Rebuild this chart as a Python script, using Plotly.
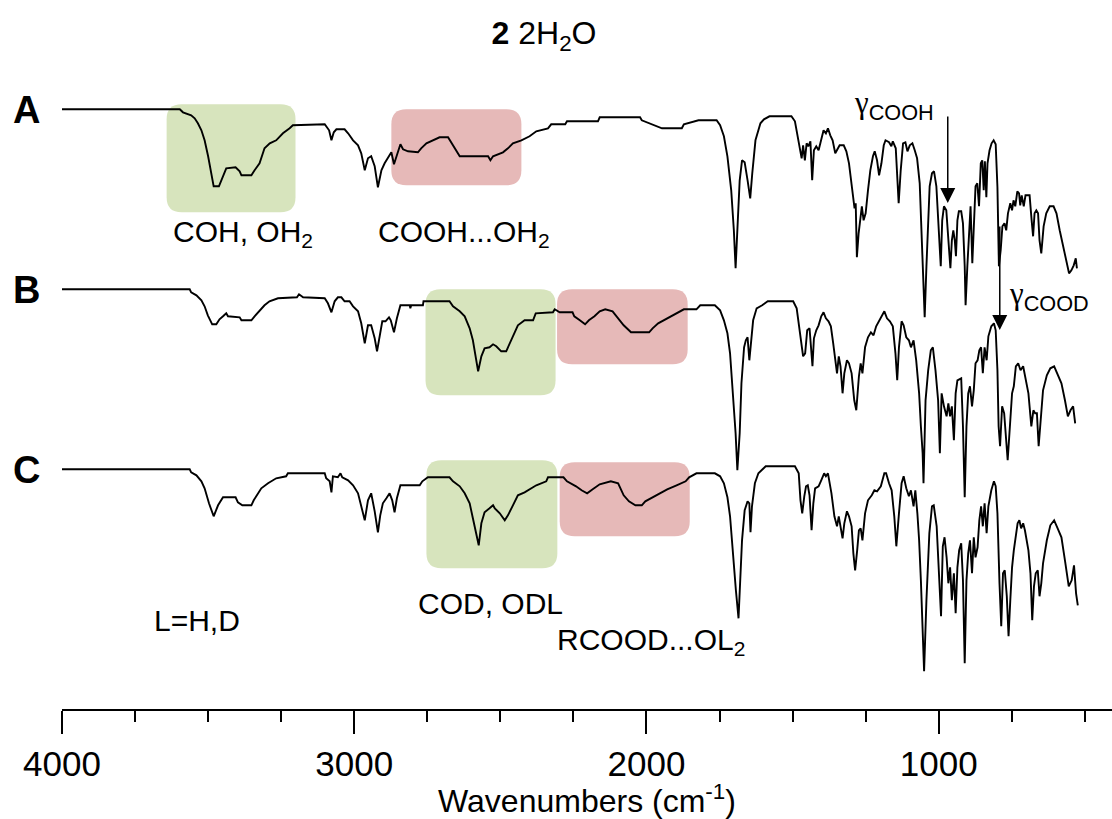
import plotly.graph_objects as go

# ---------------- data (wavenumber, relative transmittance, a.u.) ----------------
A_wn = [4000, 3597, 3586, 3558, 3546, 3535, 3523, 3512, 3500, 3489, 3481, 3463, 3449, 3438, 3406, 3392, 3386, 3352, 3341, 3324, 3307, 3289, 3267, 3244, 3221, 3210, 3101, 3086, 3078, 3070, 3061, 3033, 3021, 3004, 2987, 2976, 2964, 2953, 2942, 2930, 2919, 2907, 2896, 2885, 2873, 2864, 2854, 2842, 2833, 2816, 2782, 2771, 2753, 2731, 2708, 2679, 2662, 2639, 2542, 2534, 2525, 2491, 2474, 2457, 2428, 2400, 2377, 2337, 2326, 2297,
        2278, 2272, 2166, 2160, 2022, 2016, 1991, 1947, 1879, 1872, 1822, 1760, 1748, 1735, 1723, 1710, 1701, 1695, 1689, 1681, 1673, 1664, 1654, 1645, 1638, 1627, 1610, 1598, 1579, 1504, 1492, 1486, 1477, 1469, 1464, 1458, 1452, 1446, 1439, 1433, 1427, 1419, 1411, 1402, 1394, 1386, 1379, 1371, 1363, 1354,
        1339, 1325, 1316, 1307, 1299, 1293, 1288, 1284, 1280, 1274, 1268, 1263, 1257, 1250, 1242, 1234, 1225, 1219, 1211, 1204, 1196, 1188, 1182, 1170, 1162, 1157, 1147, 1143, 1137, 1130, 1122, 1114, 1107, 1099, 1090, 1082, 1074, 1065, 1060, 1054, 1048, 1042, 1037, 1031, 1023, 1016, 1008, 1000, 993, 988, 982, 974, 967, 960, 955, 950, 945, 941, 936, 931, 923, 917, 911, 908, 902, 896, 891, 885, 879, 874, 868, 862, 856, 851, 846, 842, 837, 833, 826, 819, 812, 805, 799, 794, 788, 782, 775, 769, 763, 755, 749, 744, 738, 731, 725, 721, 716, 709, 703, 689, 682, 677, 672, 666, 660, 655, 649, 641, 632, 620, 607, 597, 586, 575, 563, 554, 546, 538, 531, 527]
A_t = [0, 0, -3, -6, -9, -14, -21, -31, -47, -67, -77, -77, -66, -59, -58, -62, -66, -66, -61, -54, -39, -34, -31, -24, -19, -16, -15, -21, -31, -23, -20, -20, -24, -31, -36, -44, -61, -49, -47, -57, -78, -61, -54, -48, -43, -55, -45, -35, -40, -42, -43, -39, -34, -31, -28, -28, -36, -47, -47, -51, -47, -43, -39, -34, -31, -27, -22, -19, -15, -15,
       -15, -12, -12, -8, -8, -11, -14, -19, -19, -15, -11, -11, -16, -27, -47, -81, -121, -159, -121, -71, -51, -53, -71, -89, -64, -31, -14, -10, -7, -7, -12, -21, -37, -49, -36, -51, -34, -37, -32, -71, -41, -37, -41, -29, -21, -24, -19, -26, -31, -44,
       -36, -36, -42, -54, -71, -89, -99, -94, -148, -124, -111, -97, -111, -104, -81, -61, -47, -42, -51, -66, -54, -36, -31, -33, -37, -32, -39, -58, -94, -61, -34, -33, -42, -36, -34, -41, -49, -74, -111, -154, -208, -157, -111, -77, -64, -62, -77, -117, -157, -111, -97, -101, -131, -159, -131, -121, -131, -147, -111, -102, -102, -114, -157, -196, -157, -121, -97, -154, -104, -77, -74, -97, -54, -51, -81, -52, -88, -54, -41, -34, -31, -35, -78, -157, -141, -117, -114, -121, -104, -94, -101, -91, -97, -82, -84, -96, -86, -97, -86, -86, -111, -127, -104, -101, -104, -131, -144, -117, -104, -97, -97, -104, -121, -137, -151, -164, -161, -156, -149, -159]

B_wn = [4000, 3563, 3558, 3540, 3523, 3512, 3501, 3486, 3472, 3461, 3449, 3438, 3432, 3392, 3386, 3352, 3341, 3324, 3307, 3290, 3261, 3196, 3189, 3175, 3101, 3090, 3078, 3067, 3056, 3044, 3033, 3016, 3004, 2987, 2976, 2964, 2953, 2942, 2930, 2922, 2913, 2904, 2893, 2881, 2875, 2864, 2854, 2842, 2810, 2808, 2805, 2765, 2763, 2674, 2662, 2639, 2622, 2605, 2594, 2585, 2576, 2565, 2554, 2537, 2525, 2514, 2497, 2480, 2468, 2451, 2440, 2417, 2388, 2379, 2320, 2314, 2297,
        2253, 2247, 2228, 2210, 2197, 2178, 2160, 2141, 2116, 2097, 2078, 2060, 2053, 1991, 1979, 1960, 1935, 1910, 1885, 1872, 1829, 1816, 1766, 1748, 1735, 1723, 1714, 1704, 1695, 1689, 1681, 1675, 1666, 1660, 1654, 1648, 1642, 1635, 1623, 1604, 1585, 1498, 1486, 1477, 1469, 1464, 1457, 1450, 1442, 1435, 1432, 1427, 1419, 1411, 1402, 1394, 1386, 1377, 1369, 1361, 1354, 1348, 1342, 1336, 1329, 1323, 1314, 1307, 1298, 1289, 1282, 1273, 1267, 1261, 1252, 1242, 1232, 1223, 1214, 1205, 1192, 1186, 1177, 1167, 1157, 1148, 1142, 1136, 1127, 1120, 1111, 1102, 1095, 1086, 1077, 1067, 1061, 1055, 1052, 1045, 1036, 1027, 1020, 1011, 1002, 996, 990, 982, 973, 967, 961, 955, 948, 942, 936, 923, 917, 911, 905, 899, 893, 886, 880, 874, 867, 861, 855, 849, 843, 836, 830, 820, 811, 805, 799, 795, 790, 783, 776, 770, 764, 755, 749, 743, 736, 728, 720, 711, 705, 693, 683, 676, 670, 664, 658, 649, 643, 630, 618, 605, 593, 580, 568, 558, 549, 540, 533]
B_t = [0, 0, -3, -6, -11, -17, -26, -35, -35, -30, -27, -24, -27, -28, -31, -31, -27, -21, -16, -12, -9, -8, -5, -8, -9, -14, -23, -12, -8, -8, -12, -12, -17, -22, -34, -54, -36, -36, -49, -62, -46, -32, -32, -28, -31, -43, -29, -16, -16, -19, -16, -16, -12, -12, -17, -22, -27, -39, -51, -67, -82, -67, -59, -58, -55, -57, -62, -62, -54, -43, -36, -31, -31, -24, -23, -20, -23,
       -23, -27, -31, -35, -31, -27, -22, -20, -22, -29, -36, -41, -43, -43, -39, -34, -30, -26, -22, -20, -20, -16, -16, -21, -31, -44, -64, -104, -144, -181, -144, -94, -58, -51, -48, -71, -54, -31, -19, -16, -12, -12, -19, -37, -54, -67, -64, -41, -39, -61, -77, -49, -41, -36, -27, -23, -29, -32, -37, -54, -74, -84, -67, -77, -104, -84, -71, -74, -84, -111, -121, -87, -74, -84, -58, -48, -43, -46, -37, -32, -26, -22, -29, -32, -37, -64, -91, -58, -32, -36, -48, -51, -58, -51, -71, -104, -137, -164, -194, -111, -81, -61, -58, -81, -111, -164, -104, -117, -127, -114, -127, -117, -151, -104, -91, -89, -137, -208, -137, -104, -97, -117, -101, -74, -71, -61, -58, -84, -58, -71, -47, -37, -34, -41, -81, -137, -157, -117, -124, -144, -171, -131, -104, -97, -77, -74, -81, -77, -86, -104, -137, -121, -124, -124, -157, -121, -101, -86, -79, -77, -86, -94, -111, -127, -121, -117, -134]

C_wn = [4000, 3563, 3558, 3540, 3523, 3512, 3497, 3481, 3466, 3455, 3449, 3406, 3398, 3383, 3352, 3344, 3330, 3318, 3295, 3267, 3233, 3227, 3101, 3096, 3084, 3078, 3073, 3056, 3047, 3041, 3021, 3004, 2987, 2976, 2964, 2953, 2942, 2930, 2919, 2911, 2902, 2890, 2879, 2870, 2862, 2854, 2842, 2776, 2767, 2748, 2674, 2662, 2639, 2622, 2605, 2594, 2582, 2574, 2565, 2554, 2537, 2525, 2519, 2502, 2485, 2474, 2457, 2440, 2417, 2400, 2377, 2343, 2337, 2297,
        2284, 2272, 2241, 2222, 2203, 2184, 2160, 2122, 2097, 2078, 2060, 2038, 2016, 2004, 1979, 1954, 1929, 1897, 1866, 1854, 1829, 1766, 1748, 1735, 1723, 1714, 1704, 1694, 1685, 1679, 1673, 1664, 1654, 1648, 1644, 1639, 1629, 1617, 1592, 1492, 1479, 1473, 1467, 1460, 1454, 1448, 1442, 1435, 1429, 1423, 1411, 1402, 1392, 1386, 1379, 1373, 1367, 1357, 1348, 1342, 1336, 1329, 1323, 1314, 1307, 1298, 1292, 1286, 1279, 1273, 1267, 1261, 1252, 1242, 1229, 1220, 1211, 1198, 1186, 1180, 1170, 1161, 1152, 1145, 1136, 1127, 1120, 1111, 1102, 1095, 1086, 1080, 1073, 1067, 1061, 1055, 1050, 1042, 1032, 1023, 1017, 1007, 998, 992, 986, 980, 973, 967, 961, 955, 948, 942, 936, 930, 923, 917, 911, 905, 899, 893, 886, 880, 874, 867, 861, 855, 849, 843, 836, 830, 820, 811, 805, 799, 792, 786, 780, 774, 767, 761, 755, 749, 743, 736, 730, 724, 718, 711, 705, 693, 686, 680, 674, 668, 661, 655, 649, 643, 630, 618, 605, 593, 580, 568, 555, 545, 537, 530, 524]
C_t = [0, 0, -3, -6, -12, -19, -34, -47, -36, -31, -28, -28, -33, -36, -36, -31, -24, -19, -14, -9, -7, -4, -4, -9, -12, -23, -7, -8, -4, -8, -11, -16, -24, -36, -51, -31, -24, -42, -63, -46, -34, -29, -24, -31, -43, -29, -16, -16, -12, -8, -8, -12, -17, -24, -34, -49, -67, -76, -54, -43, -39, -36, -39, -44, -51, -46, -36, -26, -23, -20, -16, -12, -8, -8,
       -8, -12, -17, -21, -24, -20, -15, -12, -14, -26, -32, -36, -36, -32, -28, -24, -20, -16, -12, -8, -4, -4, -7, -14, -28, -47, -87, -121, -149, -114, -71, -41, -32, -34, -63, -37, -14, -4, 3, 3, -4, -31, -44, -27, -17, -16, -26, -61, -34, -19, -17, -11, -4, -7, -4, -14, -24, -47, -57, -47, -56, -69, -54, -42, -47, -57, -84, -101, -81, -61, -59, -71, -44, -31, -26, -21, -22, -17, -4, -4, -14, -21, -47, -77, -44, -14, -7, -19, -27, -21, -37, -21, -44, -71, -111, -164, -202, -131, -64, -37, -36, -57, -104, -147, -77, -68, -88, -114, -98, -131, -104, -144, -98, -81, -74, -111, -194, -111, -84, -71, -104, -68, -88, -78, -51, -37, -57, -34, -64, -37, -21, -12, -17, -44, -114, -157, -104, -101, -127, -167, -131, -98, -81, -68, -54, -51, -59, -54, -61, -81, -104, -151, -117, -104, -101, -127, -114, -94, -71, -56, -51, -59, -68, -91, -117, -111, -96, -124, -136]

SPECTRA = [("A", A_wn, A_t), ("B", B_wn, B_t), ("C", C_wn, C_t)]
OFFSETS = {"A": 0, "B": -180, "C": -360}

# highlighted regions: (spectrum, wn_high, wn_low, top, bottom, colour)
GREEN = "#D7E4BD"
PINK = "#E6B9B8"
REGIONS = [
    ("A", 3642, 3201, 5, -103, GREEN),
    ("A", 2873, 2428, 0, -76, PINK),
    ("B", 2756, 2311, 0, -106, GREEN),
    ("B", 2306, 1859, 0, -75, PINK),
    ("C", 2753, 2305, 9, -99, GREEN),
    ("C", 2297, 1852, 7, -67, PINK),
]

X_RANGE = [4000, 407]
Y_RANGE = [-599.7, 109.3]
FONT = "Arial, Liberation Sans, sans-serif"
SERIF = "Times New Roman, Liberation Serif, serif"

fig = go.Figure()
for name, wn, t in SPECTRA:
    off = OFFSETS[name]
    fig.add_trace(go.Scatter(x=wn, y=[v + off for v in t], mode="lines",
                             line=dict(color="black", width=1.9), name=name,
                             showlegend=False, hoverinfo="skip"))

# rounded rectangles (radius in px converted to data units)
W_PLOT = 1050
H_PLOT = 709
ux = (X_RANGE[0] - X_RANGE[1]) / W_PLOT
uy = (Y_RANGE[1] - Y_RANGE[0]) / H_PLOT
r = 15
rx, ry = r * ux, r * uy
shapes = []
for name, wl, wr, top, bot, col in REGIONS:
    off = OFFSETS[name]
    T, B = top + off, bot + off
    p = (f"M {wl - rx},{T} L {wr + rx},{T} Q {wr},{T} {wr},{T - ry} "
         f"L {wr},{B + ry} Q {wr},{B} {wr + rx},{B} L {wl - rx},{B} "
         f"Q {wl},{B} {wl},{B + ry} L {wl},{T - ry} Q {wl},{T} {wl - rx},{T} Z")
    shapes.append(dict(type="path", path=p, xref="x", yref="y", fillcolor=col,
                       line=dict(width=0), layer="below"))

ann = []
# spectrum letters
for name, yv in [("A", -1), ("B", -181), ("C", -361)]:
    ann.append(dict(text=f"<b>{name}</b>", xref="paper", x=-0.034, yref="y", y=yv,
                    showarrow=False, font=dict(size=38, family=FONT, color="black"),
                    xanchor="center", yanchor="middle"))

labels = [
    ("COH, OH<sub>2</sub>", 3380, -124),
    ("COOH...OH<sub>2</sub>", 2626, -124),
    ("COD, ODL", 2533, -494),
    ("RCOOD...OL<sub>2</sub>", 1984, -532),
    ("L=H,D", 3538, -511),
]
for txt, xv, yv in labels:
    ann.append(dict(text=txt, x=xv, y=yv, xref="x", yref="y", showarrow=False,
                    font=dict(size=30, family=FONT, color="black"),
                    xanchor="center", yanchor="middle"))

gamma = f'<span style="font-family:{SERIF}">γ</span>'
ann.append(dict(text=gamma + "<sub>COOH</sub>", x=1154, y=4, xref="x", yref="y", showarrow=False,
                font=dict(size=31, family=FONT, color="black"), xanchor="center", yanchor="middle"))
ann.append(dict(text=gamma + "<sub>COOD</sub>", x=624, y=-187, xref="x", yref="y", showarrow=False,
                font=dict(size=31, family=FONT, color="black"), xanchor="center", yanchor="middle"))
# arrows
for xv, y_tail, y_head in [(969, -5.7, -93.7), (791, -115.7, -220.7)]:
    ann.append(dict(text="", x=xv, y=y_head, ax=xv, ay=y_tail, xref="x", yref="y",
                    axref="x", ayref="y", showarrow=True, arrowhead=2, arrowsize=2,
                    arrowwidth=1.5, arrowcolor="black", standoff=0))

fig.update_layout(
    width=1112, height=819,
    margin=dict(l=62, r=0, t=0, b=110),
    paper_bgcolor="white", plot_bgcolor="white",
    title=dict(text="<b>2</b> 2H<sub>2</sub>O", x=544 / 1112, xanchor="center",
               y=1 - 33 / 819, yanchor="middle", yref="container",
               font=dict(size=32, family=FONT, color="black")),
    shapes=shapes, annotations=ann,
    xaxis=dict(range=X_RANGE, showgrid=False, zeroline=False,
               showline=True, linecolor="black", linewidth=2,
               ticks="outside", ticklen=23, tickwidth=1.5, tickcolor="black",
               tick0=0, dtick=1000,
               minor=dict(ticks="outside", ticklen=11, tickwidth=1.5, tickcolor="black", dtick=250, tick0=0),
               tickfont=dict(size=35, family=FONT, color="black"),
               title=dict(text="Wavenumbers (cm<sup>-1</sup>)", standoff=4,
                          font=dict(size=32, family=FONT, color="black"))),
    yaxis=dict(range=Y_RANGE, visible=False, fixedrange=True),
)

fig.write_html("out.html")
